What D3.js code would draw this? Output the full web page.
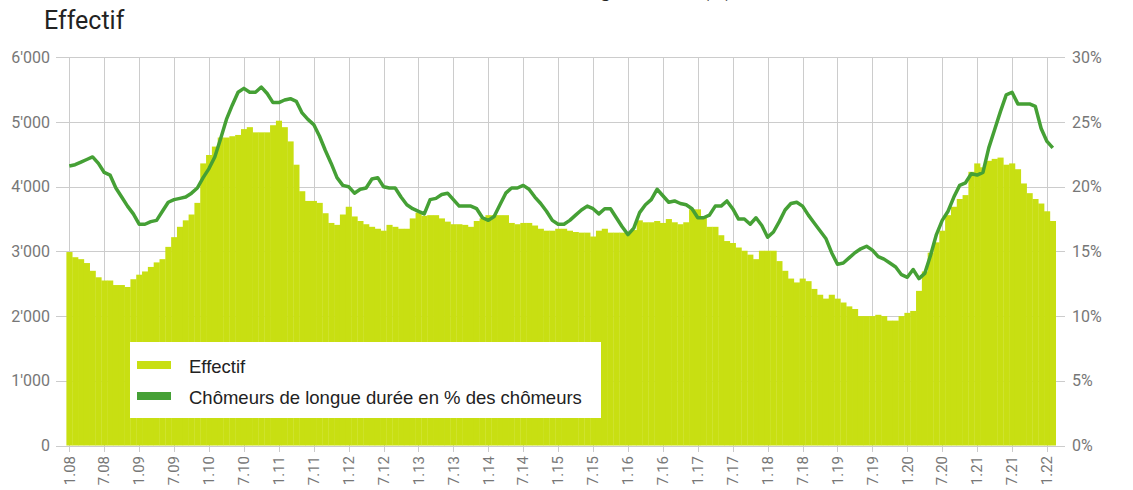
<!DOCTYPE html>
<html>
<head>
<meta charset="utf-8">
<script src="https://cdn.jsdelivr.net/npm/d3@7"></script>
<style>
  body { margin: 0; background: #fff; }
  svg { display: block; }
</style>
</head>
<body>
<div id="chart"></div>
<script>

// monthly data, 1.08 .. 2.22
var startYear = 2008;
var effectif = [
    2990, 2910, 2880, 2820, 2700, 2600, 2550, 2550, 2480, 2480, 2450, 2570,
    2640, 2690, 2760, 2830, 2880, 3070, 3220, 3380, 3480, 3570, 3750, 4360,
    4490, 4620, 4760, 4760, 4780, 4800, 4890, 4920, 4840, 4840, 4840, 4950,
    5020, 4920, 4700, 4340, 3930, 3780, 3780, 3750, 3590, 3440, 3410, 3570,
    3690, 3540, 3470, 3420, 3380, 3350, 3320, 3410, 3380, 3350, 3350, 3510,
    3600, 3550, 3560, 3560, 3510, 3460, 3420, 3420, 3410, 3380, 3470, 3510,
    3560, 3560, 3560, 3560, 3440, 3420, 3440, 3440, 3400, 3350, 3320, 3320,
    3350, 3350, 3320, 3300, 3290, 3290, 3230, 3320, 3350, 3290, 3290, 3290,
    3290, 3330, 3480, 3450, 3450, 3470, 3440, 3500, 3450, 3420, 3450, 3650,
    3650, 3540, 3380, 3380, 3250, 3160, 3130, 3060, 3010, 2950, 2880, 3010,
    3010, 3010, 2850, 2700, 2580, 2520, 2580, 2540, 2420, 2330, 2270, 2330,
    2270, 2210, 2150, 2110, 2000, 2000, 2000, 2020, 2000, 1930, 1930, 2000,
    2050, 2080, 2390, 2690, 2980, 3140, 3320, 3560, 3690, 3810, 3870, 4230,
    4360, 4300, 4400, 4430, 4450, 4340, 4360, 4270, 4050, 3900, 3810, 3740,
    3620, 3470
];
var longueDuree = [
    21.6, 21.7, 21.9, 22.1, 22.3, 21.8, 21.1, 20.9, 19.9, 19.2, 18.5, 17.9,
    17.1, 17.1, 17.3, 17.4, 18.1, 18.8, 19.0, 19.1, 19.2, 19.5, 19.9, 20.7,
    21.4, 22.3, 23.7, 25.2, 26.3, 27.3, 27.6, 27.3, 27.3, 27.7, 27.2, 26.5,
    26.5, 26.7, 26.8, 26.6, 25.7, 25.2, 24.8, 23.9, 22.8, 21.8, 20.7, 20.1,
    20.0, 19.5, 19.8, 19.9, 20.6, 20.7, 20.0, 19.9, 19.9, 19.2, 18.6, 18.3,
    18.1, 17.9, 19.0, 19.1, 19.4, 19.5, 19.0, 18.5, 18.5, 18.5, 18.3, 17.6,
    17.4, 17.7, 18.6, 19.5, 19.9, 19.9, 20.1, 19.8, 19.2, 18.7, 18.1, 17.4,
    17.1, 17.1, 17.4, 17.8, 18.2, 18.5, 18.3, 17.9, 18.3, 18.3, 17.6, 16.9,
    16.3, 16.8, 18.0, 18.6, 19.0, 19.8, 19.3, 18.8, 18.9, 18.7, 18.6, 18.3,
    17.6, 17.6, 17.8, 18.5, 18.5, 18.9, 18.3, 17.5, 17.5, 17.1, 17.6, 17.0,
    16.1, 16.5, 17.3, 18.2, 18.7, 18.8, 18.5, 17.8, 17.2, 16.6, 16.0, 14.9,
    14.0, 14.1, 14.5, 14.9, 15.2, 15.4, 15.1, 14.6, 14.4, 14.1, 13.8, 13.2,
    13.0, 13.6, 12.9, 13.3, 14.7, 16.3, 17.4, 18.1, 19.2, 20.1, 20.3, 21.0,
    20.9, 21.1, 23.0, 24.4, 25.8, 27.1, 27.3, 26.4, 26.4, 26.4, 26.2, 24.5,
    23.5, 23.0
];
var months = effectif.map(function(d, i){
    var yy = (startYear + Math.floor(i / 12)) % 100;
    return ((i % 12) + 1) + "." + (yy < 10 ? "0" + yy : yy);
});
var leftTicks = [0, 1000, 2000, 3000, 4000, 5000, 6000];
var rightTicks = [0, 5, 10, 15, 20, 25, 30];
var legendLabels = ["Effectif", "Chômeurs de longue durée en % des chômeurs"];

var cs = {
    bar: "#c8df12",
    line: "#45a035",
    grid: "#cccccc",
    axisText: "#777777",
    text: "#222222"
};

Chart = function(container){
    this.container = container;
    this.full_width = 1133;
    this.full_height = 490;
    this._init();
};

Chart.prototype._init = function(){
    this._build_graph();
    this._draw_grid();
    this._draw_bars();
    this._draw_line();
    this._draw_axes();
    this._draw_titles();
    this._draw_legend();
};

Chart.prototype._build_graph = function(){
    this._svg = d3.select(this.container)
        .append("svg")
        .attr("width", this.full_width)
        .attr("height", this.full_height);

    this.x = d3.scaleBand()
        .domain(months)
        .range([66.4, 1055.7])
        .padding(0);

    this.y = d3.scaleLinear().domain([0, 6000]).range([445.5, 57.3]);
    this.y2 = d3.scaleLinear().domain([0, 30]).range([445.5, 57.3]);

    this.tickMonths = months.filter(function(d, i){ return i % 6 === 0; });
};

Chart.prototype._draw_grid = function(){
    var self = this;
    var g = this._svg.append("g");

    g.selectAll(".hgrid")
        .data(leftTicks)
        .enter().append("line")
        .attr("x1", 56).attr("x2", 1065)
        .attr("y1", function(d){ return Math.round(self.y(d)) + 0.5; })
        .attr("y2", function(d){ return Math.round(self.y(d)) + 0.5; })
        .style("stroke", cs.grid)
        .style("stroke-width", 1);

    g.selectAll(".vgrid")
        .data(this.tickMonths)
        .enter().append("line")
        .attr("x1", function(d){ return Math.round(self.x(d) + self.x.bandwidth() / 2) + 0.5; })
        .attr("x2", function(d){ return Math.round(self.x(d) + self.x.bandwidth() / 2) + 0.5; })
        .attr("y1", 57).attr("y2", 452)
        .style("stroke", cs.grid)
        .style("stroke-width", 1);
};

Chart.prototype._draw_bars = function(){
    var self = this;
    this._svg.append("g")
        .selectAll("rect")
        .data(effectif)
        .enter().append("rect")
        .attr("x", function(d, i){ return self.x(months[i]); })
        .attr("width", self.x.bandwidth() + 0.3)
        .attr("y", function(d){ return self.y(d); })
        .attr("height", function(d){ return self.y(0) - self.y(d); })
        .style("fill", cs.bar);
};

Chart.prototype._draw_line = function(){
    var self = this;
    var line = d3.line()
        .x(function(d, i){ return self.x(months[i]) + self.x.bandwidth() / 2; })
        .y(function(d){ return self.y2(d); });

    this._svg.append("path")
        .datum(longueDuree)
        .attr("d", line)
        .style("fill", "none")
        .style("stroke", cs.line)
        .style("stroke-width", 3.5)
        .style("stroke-linejoin", "round");
};

Chart.prototype._draw_axes = function(){
    var self = this;

    this._svg.append("g")
        .selectAll("text")
        .data(leftTicks)
        .enter().append("text")
        .attr("x", 50)
        .attr("y", function(d){ return self.y(d); })
        .attr("dy", "0.35em")
        .attr("text-anchor", "end")
        .style("font-family", "Roboto, sans-serif")
        .style("font-size", "16px")
        .style("fill", cs.axisText)
        .text(function(d){ return d3.format(",")(d).replace(/,/g, "'"); });

    this._svg.append("g")
        .selectAll("text")
        .data(rightTicks)
        .enter().append("text")
        .attr("x", 1072)
        .attr("y", function(d){ return self.y2(d); })
        .attr("dy", "0.35em")
        .style("font-family", "Roboto, sans-serif")
        .style("font-size", "16px")
        .style("fill", cs.axisText)
        .text(function(d){ return d + "%"; });

    this._svg.append("g")
        .selectAll("text")
        .data(this.tickMonths)
        .enter().append("text")
        .attr("transform", function(d){
            return "translate(" + (self.x(d) + self.x.bandwidth() / 2) + ",456) rotate(-90)";
        })
        .attr("dy", "0.35em")
        .attr("text-anchor", "end")
        .style("font-family", "Roboto, sans-serif")
        .style("font-size", "15px")
        .style("fill", cs.axisText)
        .text(function(d){ return d; });
};

Chart.prototype._draw_titles = function(){
    this._svg.append("text")
        .attr("x", 44)
        .attr("y", 29)
        .style("font-family", "Roboto, sans-serif")
        .style("font-size", "25px")
        .style("fill", cs.text)
        .text("Effectif");

    // second title sits above the top edge, only its descenders show
    this._svg.append("text")
        .attr("x", 733)
        .attr("y", -4.5)
        .attr("text-anchor", "end")
        .style("font-family", "Roboto, sans-serif")
        .style("font-size", "22px")
        .style("fill", cs.text)
        .text("Chômeurs de longue durée (%)");
};

Chart.prototype._draw_legend = function(){
    var g = this._svg.append("g");

    g.append("rect")
        .attr("x", 130).attr("y", 342)
        .attr("width", 471).attr("height", 76)
        .style("fill", "#fff");

    var colors = [cs.bar, cs.line];
    var rows = g.selectAll(".row")
        .data(legendLabels)
        .enter().append("g")
        .attr("transform", function(d, i){ return "translate(0," + (i * 31) + ")"; });

    rows.append("rect")
        .attr("x", 137).attr("y", 361)
        .attr("width", 34).attr("height", 8)
        .style("fill", function(d, i){ return colors[i]; });

    rows.append("text")
        .attr("x", 189)
        .attr("y", 372.5)
        .style("font-family", "'Liberation Sans', Arial, sans-serif")
        .style("font-size", "18.5px")
        .style("fill", cs.text)
        .text(function(d){ return d; });
};

new Chart("#chart");

</script>
</body>
</html>
